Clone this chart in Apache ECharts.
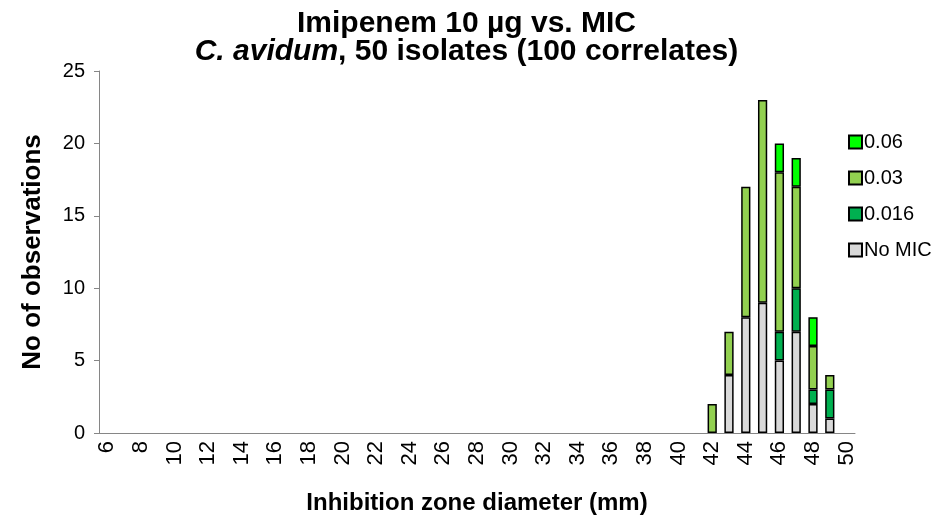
<!DOCTYPE html>
<html><head><meta charset="utf-8">
<script src="https://cdn.jsdelivr.net/npm/echarts@6/dist/echarts.min.js"></script>
<style>html,body{margin:0;padding:0;background:#fff}#c{width:933px;height:520px}</style>
</head><body><div id="c"></div>
<script>
const categories = [];
for (let v = 6; v <= 50; v++) categories.push(String(v));
// values listed from 42 to 49
const zones = ['42','43','44','45','46','47','48','49'];
const noMIC  = [0, 4, 8, 9, 5, 7, 2, 1];
const mic016 = [0, 0, 0, 0, 2, 3, 1, 2];
const mic03  = [2, 3, 9, 14, 11, 7, 3, 1];
const mic06  = [0, 0, 0, 0, 2, 2, 2, 0];
const yTicks = [0, 5, 10, 15, 20, 25];

function full(arr){
  return categories.map(c => { const i = zones.indexOf(c); return i >= 0 && arr[i] > 0 ? arr[i] : null; });
}
const seriesDefs = [
  {name:'No MIC', data:noMIC, color:'#d9d9d9'},
  {name:'0.016', data:mic016, color:'#00b050'},
  {name:'0.03', data:mic03, color:'#92d050'},
  {name:'0.06', data:mic06, color:'#00ff00'}
];
const F = 'Liberation Sans, Arial, sans-serif';
const chart = echarts.init(document.getElementById('c'));
chart.setOption({
  animation:false,
  textStyle:{fontFamily:F},
  title:{
    text:'Imipenem 10 µg vs. MIC\n{i|C. avidum}{b|, 50 isolates (100 correlates)}',
    left:'center', top:5,
    textStyle:{fontSize:30, fontWeight:'bold', color:'#000', lineHeight:28, fontFamily:F,
      rich:{i:{fontSize:30,fontWeight:'bold',fontStyle:'italic',color:'#000',fontFamily:F,lineHeight:28},
            b:{fontSize:30,fontWeight:'bold',color:'#000',fontFamily:F,lineHeight:28}}}
  },
  legend:{
    orient:'vertical', left:843, top:127, itemWidth:13, itemHeight:13, itemGap:16,
    data:['0.06','0.03','0.016','No MIC'],
    textStyle:{fontSize:20, color:'#000', padding:[0,0,0,-3]},
    icon:'rect'
  },
  grid:{left:99, right:78, top:71, bottom:87},
  xAxis:{
    type:'category', data:categories,
    name:'Inhibition zone diameter (mm)', nameLocation:'middle', nameGap:58,
    nameTextStyle:{fontSize:24, fontWeight:'bold', color:'#000'},
    axisLine:{lineStyle:{color:'#868686', width:1}},
    axisTick:{interval:0, length:6, lineStyle:{color:'#868686'}},
    axisLabel:{interval:1, rotate:90, fontSize:22, color:'#000', margin:8}
  },
  yAxis:{
    type:'value', min:0, max:25, interval:5,
    name:'No of observations', nameLocation:'middle', nameGap:53,
    nameTextStyle:{fontSize:26, fontWeight:'bold', color:'#000'},
    axisLine:{show:true, lineStyle:{color:'#868686'}},
    axisTick:{show:true, length:5, lineStyle:{color:'#868686'}},
    splitLine:{show:false},
    axisLabel:{fontSize:20, color:'#000', margin:14}
  },
  series: seriesDefs.map(s => ({
    name:s.name, type:'bar', stack:'a', data:full(s.data), barCategoryGap:'45%',
    itemStyle:{color:s.color, borderColor:'#000', borderWidth:1.5}
  }))
});
</script></body></html>
